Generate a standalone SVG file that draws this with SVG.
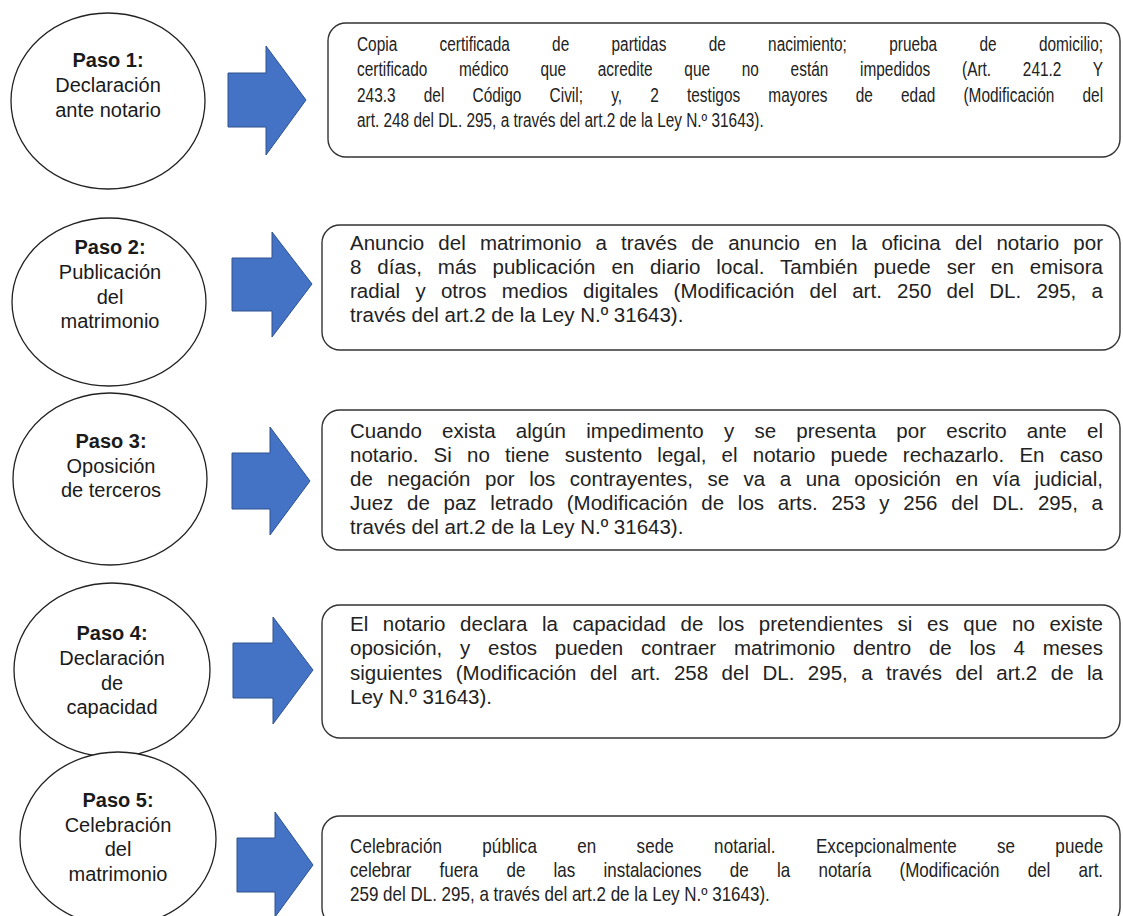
<svg xmlns="http://www.w3.org/2000/svg" width="1123" height="916" viewBox="0 0 1123 916">
<style>
.bg{fill:#ffffff}
.circ{fill:#ffffff;stroke:#222;stroke-width:1.3}
.box{fill:#ffffff;stroke:#333;stroke-width:1.4}
.arr{fill:#4472C4;stroke:#2F528F;stroke-width:1}
.ct{font-family:"Liberation Sans",Arial,sans-serif;font-size:20px;fill:#1a1a1a;text-anchor:middle}
.ct .b{font-weight:bold}
.bt{font-family:"Liberation Sans",Arial,sans-serif;font-size:20.5px;fill:#222}
.nt{font-family:"Liberation Sans",Arial,sans-serif;font-size:20px;fill:#222}
</style>
<rect class="bg" x="0" y="0" width="1123" height="916"/>

<g id="connectors">
<polygon class="arr" points="228,73 266,73 266,46 306,100 266,155 266,127 228,127"/>
<polygon class="arr" points="232,258 272,258 272,232 312,284 272,337 272,311 232,311"/>
<polygon class="arr" points="232,453 270,453 270,427 310,481 270,535 270,509 232,509"/>
<polygon class="arr" points="233,643 273,643 273,617 313,670 273,724 273,698 233,698"/>
<polygon class="arr" points="237,838 275,838 275,812 313,865 275,917 275,892 237,892"/>
</g>

<g id="paso1">
<ellipse class="circ" cx="108" cy="101" rx="97" ry="88"/>
<text class="ct"><tspan class="b" x="108" y="67">Paso 1:</tspan><tspan x="108" y="92">Declaración</tspan><tspan x="108" y="117">ante notario</tspan></text>
</g>
<g id="paso2">
<ellipse class="circ" cx="109" cy="302" rx="97" ry="84"/>
<text class="ct"><tspan class="b" x="110" y="254">Paso 2:</tspan><tspan x="110" y="279">Publicación</tspan><tspan x="110" y="304">del</tspan><tspan x="110" y="328">matrimonio</tspan></text>
</g>
<g id="paso3">
<ellipse class="circ" cx="110" cy="479" rx="97" ry="86"/>
<text class="ct"><tspan class="b" x="111" y="448">Paso 3:</tspan><tspan x="111" y="473">Oposición</tspan><tspan x="111" y="497">de terceros</tspan></text>
</g>
<g id="paso4">
<ellipse class="circ" cx="112" cy="670" rx="98" ry="87"/>
<text class="ct"><tspan class="b" x="112" y="640">Paso 4:</tspan><tspan x="112" y="665">Declaración</tspan><tspan x="112" y="690">de</tspan><tspan x="112" y="714">capacidad</tspan></text>
</g>
<g id="paso5">
<ellipse class="circ" cx="118" cy="839" rx="98" ry="87"/>
<text class="ct"><tspan class="b" x="118" y="807">Paso 5:</tspan><tspan x="118" y="832">Celebración</tspan><tspan x="118" y="856">del</tspan><tspan x="118" y="881">matrimonio</tspan></text>
</g>

<g id="texto1">
<rect class="box" x="328" y="23" width="792" height="134" rx="18"/>
<g transform="translate(357,0) scale(0.77,1)">
<text class="nt" x="0" y="51" word-spacing="49.4" textLength="969" lengthAdjust="spacing">Copia certificada de partidas de nacimiento; prueba de domicilio;</text>
<text class="nt" x="0" y="76" word-spacing="35.6" textLength="969" lengthAdjust="spacing">certificado médico que acredite que no están impedidos (Art. 241.2 Y</text>
<text class="nt" x="0" y="102" word-spacing="31" textLength="969" lengthAdjust="spacing">243.3 del Código Civil; y, 2 testigos mayores de edad (Modificación del</text>
<text class="nt" x="0" y="127">art. 248 del DL. 295, a través del art.2 de la Ley N.º 31643).</text>
</g>
</g>

<g id="texto2">
<rect class="box" x="322" y="225" width="798" height="125" rx="18"/>
<text class="bt" x="350" y="250" word-spacing="8.5" textLength="753" lengthAdjust="spacing">Anuncio del matrimonio a través de anuncio en la oficina del notario por</text>
<text class="bt" x="350" y="274" word-spacing="10.1" textLength="753" lengthAdjust="spacing">8 días, más publicación en diario local. También puede ser en emisora</text>
<text class="bt" x="350" y="298" word-spacing="9.6" textLength="753" lengthAdjust="spacing">radial y otros medios digitales (Modificación del art. 250 del DL. 295, a</text>
<text class="bt" x="350" y="322">través del art.2 de la Ley N.º 31643).</text>
</g>

<g id="texto3">
<rect class="box" x="322" y="410" width="798" height="140" rx="18"/>
<text class="bt" x="350" y="438" word-spacing="14.6" textLength="753" lengthAdjust="spacing">Cuando exista algún impedimento y se presenta por escrito ante el</text>
<text class="bt" x="350" y="462" word-spacing="9.5" textLength="753" lengthAdjust="spacing">notario. Si no tiene sustento legal, el notario puede rechazarlo. En caso</text>
<text class="bt" x="350" y="486" word-spacing="8.8" textLength="753" lengthAdjust="spacing">de negación por los contrayentes, se va a una oposición en vía judicial,</text>
<text class="bt" x="350" y="510" word-spacing="8" textLength="753" lengthAdjust="spacing">Juez de paz letrado (Modificación de los arts. 253 y 256 del DL. 295, a</text>
<text class="bt" x="350" y="534">través del art.2 de la Ley N.º 31643).</text>
</g>

<g id="texto4">
<rect class="box" x="322" y="605" width="798" height="133" rx="18"/>
<text class="bt" x="350" y="631" word-spacing="8.9" textLength="753" lengthAdjust="spacing">El notario declara la capacidad de los pretendientes si es que no existe</text>
<text class="bt" x="350" y="655" word-spacing="12.1" textLength="753" lengthAdjust="spacing">oposición, y estos pueden contraer matrimonio dentro de los 4 meses</text>
<text class="bt" x="350" y="680" word-spacing="7.8" textLength="753" lengthAdjust="spacing">siguientes (Modificación del art. 258 del DL. 295, a través del art.2 de la</text>
<text class="bt" x="350" y="704">Ley N.º 31643).</text>
</g>

<g id="texto5">
<rect class="box" x="322" y="816" width="798" height="110" rx="18"/>
<g transform="translate(350,0) scale(0.85,1)">
<text class="nt" x="0" y="853" word-spacing="41.6" textLength="886" lengthAdjust="spacing">Celebración pública en sede notarial. Excepcionalmente se puede</text>
<text class="nt" x="0" y="877" word-spacing="27.7" textLength="886" lengthAdjust="spacing">celebrar fuera de las instalaciones de la notaría (Modificación del art.</text>
<text class="nt" x="0" y="901">259 del DL. 295, a través del art.2 de la Ley N.º 31643).</text>
</g>
</g>
</svg>
